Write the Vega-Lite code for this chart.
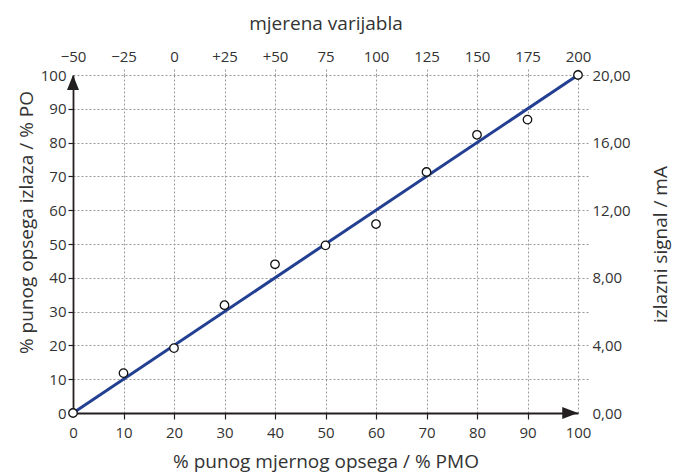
{
  "$schema": "https://vega.github.io/schema/vega-lite/v6.json",
  "width": 505,
  "height": 338,
  "autosize": "none",
  "padding": {"left": 73, "top": 75, "right": 101, "bottom": 62},
  "background": "white",
  "config": {
    "view": {"stroke": null},
    "font": "Open Sans",
    "axis": {"labelFont": "Open Sans", "titleFont": "Open Sans", "labelFontSize": 15, "titleFontSize": 19, "labelColor": "#333", "titleColor": "#333", "titleFontWeight": "normal"}
  },
  "datasets": {
    "measured": [
      {"pct": 0, "out": 0},
      {"pct": 10, "out": 11.8},
      {"pct": 20, "out": 19.2},
      {"pct": 30, "out": 31.9},
      {"pct": 40, "out": 44.0},
      {"pct": 50, "out": 49.6},
      {"pct": 60, "out": 55.9},
      {"pct": 70, "out": 71.3},
      {"pct": 80, "out": 82.3},
      {"pct": 90, "out": 86.8},
      {"pct": 100, "out": 100}
    ],
    "ideal": [
      {"pct": 0, "out": 0},
      {"pct": 100, "out": 100}
    ],
    "arrowUp": [{"pct": 0, "out": 100}],
    "arrowRight": [{"pct": 100, "out": 0}],
    "topScale": [
      {"m": -50}, {"m": -25}, {"m": 0}, {"m": 25}, {"m": 50}, {"m": 75},
      {"m": 100}, {"m": 125}, {"m": 150}, {"m": 175}, {"m": 200}
    ],
    "rightScale": [
      {"mA": 0}, {"mA": 4}, {"mA": 8}, {"mA": 12}, {"mA": 16}, {"mA": 20}
    ]
  },
  "layer": [
    {
      "encoding": {
        "x": {
          "field": "pct", "type": "quantitative",
          "scale": {"domain": [0, 100], "nice": false, "zero": false},
          "axis": {
            "orient": "bottom",
            "title": "% punog mjernog opsega / % PMO",
            "values": [0, 10, 20, 30, 40, 50, 60, 70, 80, 90, 100],
            "grid": true, "gridColor": "#9a9a9a", "gridDash": [2, 2], "gridWidth": 1,
            "domainColor": "#231f20", "domainWidth": 1.8,
            "tickColor": {"condition": {"test": "datum.value === 0 || datum.value === 100", "value": "transparent"}, "value": "#231f20"},
            "tickSize": 6, "tickWidth": 1.2,
            "labelPadding": 6, "labelFlush": false,
            "titlePadding": 12
          }
        },
        "y": {
          "field": "out", "type": "quantitative",
          "scale": {"domain": [0, 100], "nice": false, "zero": false},
          "axis": {
            "orient": "left",
            "title": "% punog opsega izlaza / % PO",
            "values": [0, 10, 20, 30, 40, 50, 60, 70, 80, 90, 100],
            "grid": true, "gridColor": "#9a9a9a", "gridDash": [2, 2], "gridWidth": 1,
            "domainColor": "#231f20", "domainWidth": 1.8,
            "tickColor": {"condition": {"test": "datum.value === 0 || datum.value === 100", "value": "transparent"}, "value": "#231f20"},
            "tickSize": 5, "tickWidth": 1.2,
            "labelPadding": 2, "labelFlush": false,
            "titlePadding": 4, "titleY": 147
          }
        }
      },
      "layer": [
        {
          "data": {"name": "ideal"},
          "mark": {"type": "line", "color": "#233f92", "strokeWidth": 3}
        },
        {
          "data": {"name": "measured"},
          "mark": {"type": "point", "shape": "circle", "filled": true, "fill": "white", "stroke": "#111", "strokeWidth": 1.3, "size": 72, "opacity": 1}
        },
        {
          "data": {"name": "arrowUp"},
          "mark": {"type": "point", "shape": "M0,0L-0.8,2L0.8,2Z", "filled": true, "fill": "#231f20", "strokeWidth": 0, "size": 225, "opacity": 1}
        },
        {
          "data": {"name": "arrowRight"},
          "mark": {"type": "point", "shape": "M0,0L-2.1,-0.8L-2.1,0.8Z", "filled": true, "fill": "#231f20", "strokeWidth": 0, "size": 225, "opacity": 1}
        }
      ]
    },
    {
      "data": {"name": "topScale"},
      "mark": {"type": "point", "opacity": 0},
      "encoding": {
        "x": {
          "field": "m", "type": "quantitative",
          "scale": {"domain": [-50, 200], "nice": false, "zero": false},
          "axis": {
            "orient": "top",
            "title": "mjerena varijabla",
            "values": [-50, -25, 0, 25, 50, 75, 100, 125, 150, 175, 200],
            "labelExpr": "datum.value < 0 ? '\u2212' + abs(datum.value) : (datum.value > 0 && datum.value <= 50 ? '+' + datum.value : '' + datum.value)",
            "grid": false, "domain": false,
            "tickColor": {"condition": {"test": "datum.value === -50", "value": "transparent"}, "value": "#9a9a9a"},
            "tickDash": [2, 2], "tickSize": 7, "tickWidth": 1,
            "labelPadding": 4, "labelFlush": false,
            "titlePadding": 16
          }
        }
      }
    },
    {
      "data": {"name": "rightScale"},
      "mark": {"type": "point", "opacity": 0},
      "encoding": {
        "y": {
          "field": "mA", "type": "quantitative",
          "scale": {"domain": [0, 20], "nice": false, "zero": false},
          "axis": {
            "orient": "right",
            "title": "izlazni signal / mA",
            "titleAngle": 270,
            "titleX": 82,
            "titleY": 169,
            "titleAlign": "center",
            "titleBaseline": "middle",
            "values": [0, 2, 4, 6, 8, 10, 12, 14, 16, 18, 20],
            "labelExpr": "datum.value % 4 === 0 ? replace(format(datum.value, '.2f'), '.', ',') : ''",
            "grid": false, "domain": false,
            "tickColor": {"condition": {"test": "datum.value === 0", "value": "transparent"}, "value": "#9a9a9a"},
            "tickDash": [2, 2], "tickSize": 10, "tickWidth": 1,
            "labelPadding": 4, "labelFlush": false
          }
        }
      }
    }
  ],
  "resolve": {"scale": {"x": "independent", "y": "independent"}, "axis": {"x": "independent", "y": "independent"}}
}
